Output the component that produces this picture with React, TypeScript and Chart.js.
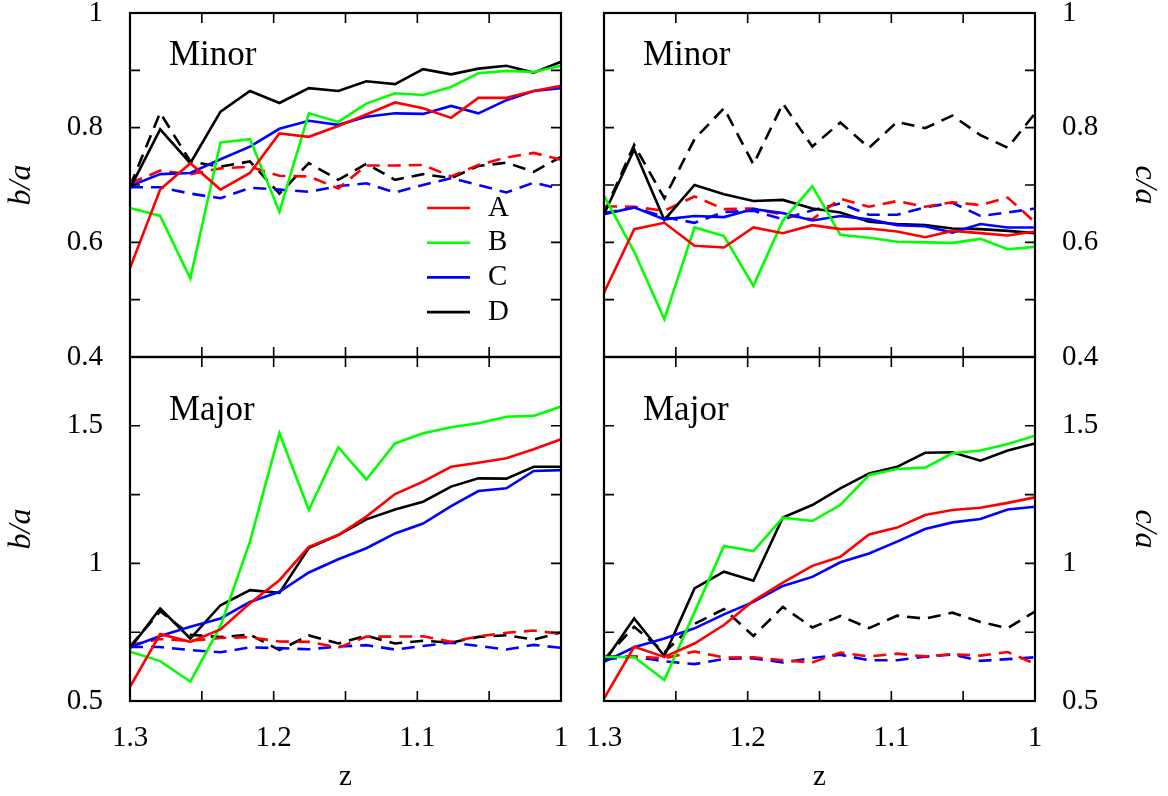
import { useEffect, useRef } from "react";
import { Chart, registerables } from "chart.js";

Chart.register(...registerables);

// Redshift of each snapshot (x values shared by every series)
const Z = [1.3, 1.279, 1.258, 1.237, 1.2165, 1.196, 1.1755, 1.155, 1.1355, 1.1155, 1.096, 1.0765, 1.0575, 1.038, 1.019, 1.0];

// Minor mergers, b/a (solid)
const MINOR_BA_A = [0.555, 0.692, 0.738, 0.692, 0.721, 0.79, 0.784, 0.803, 0.823, 0.844, 0.834, 0.817, 0.852, 0.852, 0.864, 0.873];
const MINOR_BA_B = [0.66, 0.646, 0.537, 0.774, 0.78, 0.653, 0.825, 0.81, 0.842, 0.86, 0.857, 0.871, 0.895, 0.899, 0.897, 0.908];
const MINOR_BA_C = [0.698, 0.719, 0.721, 0.745, 0.767, 0.798, 0.812, 0.805, 0.819, 0.825, 0.824, 0.838, 0.825, 0.848, 0.864, 0.869];
const MINOR_BA_D = [0.694, 0.797, 0.738, 0.828, 0.864, 0.843, 0.869, 0.864, 0.881, 0.876, 0.902, 0.893, 0.903, 0.908, 0.896, 0.915];

// Minor mergers, c/a (solid)
const MINOR_CA_A = [0.512, 0.623, 0.634, 0.594, 0.591, 0.626, 0.616, 0.63, 0.623, 0.624, 0.619, 0.609, 0.62, 0.616, 0.612, 0.619];
const MINOR_CA_B = [0.681, 0.584, 0.466, 0.626, 0.611, 0.524, 0.638, 0.698, 0.613, 0.608, 0.601, 0.6, 0.599, 0.606, 0.588, 0.592];
const MINOR_CA_C = [0.649, 0.661, 0.64, 0.646, 0.644, 0.658, 0.651, 0.638, 0.646, 0.64, 0.63, 0.628, 0.617, 0.632, 0.626, 0.626];
const MINOR_CA_D = [0.649, 0.762, 0.639, 0.7, 0.684, 0.672, 0.674, 0.659, 0.652, 0.636, 0.632, 0.63, 0.624, 0.623, 0.62, 0.616];

// Major mergers, b/a (solid)
const MAJOR_BA_A = [0.551, 0.743, 0.715, 0.76, 0.855, 0.939, 1.06, 1.103, 1.17, 1.252, 1.297, 1.351, 1.366, 1.382, 1.415, 1.451];
const MAJOR_BA_B = [0.679, 0.645, 0.57, 0.773, 1.079, 1.473, 1.194, 1.422, 1.305, 1.436, 1.473, 1.495, 1.509, 1.533, 1.536, 1.57];
const MAJOR_BA_C = [0.695, 0.736, 0.77, 0.8, 0.86, 0.897, 0.967, 1.015, 1.055, 1.109, 1.145, 1.208, 1.263, 1.273, 1.336, 1.339];
const MAJOR_BA_D = [0.691, 0.836, 0.727, 0.848, 0.903, 0.893, 1.057, 1.103, 1.16, 1.196, 1.224, 1.279, 1.309, 1.308, 1.351, 1.351];

// Major mergers, c/a (solid)
const MAJOR_CA_A = [0.509, 0.697, 0.66, 0.709, 0.776, 0.864, 0.93, 0.991, 1.024, 1.105, 1.13, 1.176, 1.194, 1.202, 1.22, 1.24];
const MAJOR_CA_B = [0.66, 0.66, 0.576, 0.823, 1.063, 1.045, 1.166, 1.154, 1.212, 1.321, 1.343, 1.348, 1.4, 1.41, 1.434, 1.464];
const MAJOR_CA_C = [0.642, 0.695, 0.727, 0.764, 0.815, 0.86, 0.918, 0.951, 1.004, 1.036, 1.079, 1.125, 1.149, 1.161, 1.196, 1.206];
const MAJOR_CA_D = [0.642, 0.8, 0.663, 0.909, 0.97, 0.937, 1.167, 1.212, 1.273, 1.327, 1.351, 1.402, 1.404, 1.373, 1.41, 1.436];

// Reference runs (dashed), same in the minor and major rows
const REF_BA_A = [0.703, 0.725, 0.719, 0.729, 0.732, 0.716, 0.715, 0.694, 0.734, 0.734, 0.735, 0.715, 0.735, 0.748, 0.756, 0.744];
const REF_BA_C = [0.696, 0.696, 0.685, 0.677, 0.695, 0.692, 0.688, 0.698, 0.703, 0.687, 0.7, 0.712, 0.7, 0.687, 0.704, 0.693];
const REF_BA_D = [0.698, 0.826, 0.741, 0.732, 0.741, 0.685, 0.738, 0.709, 0.737, 0.709, 0.719, 0.712, 0.733, 0.739, 0.723, 0.749];
const REF_CA_A = [0.663, 0.662, 0.655, 0.68, 0.658, 0.659, 0.648, 0.64, 0.676, 0.662, 0.672, 0.662, 0.67, 0.665, 0.678, 0.635];
const REF_CA_C = [0.651, 0.661, 0.644, 0.634, 0.653, 0.655, 0.64, 0.656, 0.668, 0.648, 0.648, 0.661, 0.669, 0.646, 0.652, 0.659];
const REF_CA_D = [0.651, 0.77, 0.677, 0.78, 0.834, 0.736, 0.842, 0.767, 0.809, 0.765, 0.81, 0.799, 0.821, 0.787, 0.765, 0.825];

// Ticks
const X_TICKS = [1.0, 1.05, 1.1, 1.15, 1.2, 1.25, 1.3];
const X_LABELED = [1.0, 1.1, 1.2, 1.3];
const Y_TICKS_TOP = [0.4, 0.5, 0.6, 0.7, 0.8, 0.9, 1.0];
const Y_LABELED_TOP = [0.4, 0.6, 0.8, 1.0];
const Y_TICKS_BOTTOM = [0.5, 0.75, 1.0, 1.25, 1.5, 1.75];
const Y_LABELED_BOTTOM = [0.5, 1.0, 1.5];

const NAMES = ["A", "B", "C", "D"];
const COLORS = ["#ff0000", "#00ff00", "#0000ff", "#000000"];

const W = 1168;
const H = 796;
const M = 100; // canvas overscan on every side
const FONT = "'Liberation Serif', 'Times New Roman', serif";
const LINE_W = 2.6;
const DASH = [13, 8];

type Series = { label: string; color: string; values: number[]; dashed: boolean };
type Panel = {
  rect: { l: number; t: number; r: number; b: number };
  side: "left" | "right";
  yMin: number;
  yMax: number;
  yTicks: number[];
  yLabeled: number[];
  yTitle: string;
  showX: boolean;
  title: string;
  titleDy: number;
  legend: boolean;
  series: Series[];
};

const solid = (vals: number[][]): Series[] =>
  vals.map((v, i) => ({ label: NAMES[i], color: COLORS[i], values: v, dashed: false }));

const dashed = (a: number[], c: number[], d: number[]): Series[] => [
  { label: "A ref", color: COLORS[0], values: a, dashed: true },
  { label: "C ref", color: COLORS[2], values: c, dashed: true },
  { label: "D ref", color: COLORS[3], values: d, dashed: true },
];

const PANELS: Panel[] = [
  {
    rect: { l: 130, t: 13, r: 561, b: 357 },
    side: "left",
    yMin: 0.4, yMax: 1.0, yTicks: Y_TICKS_TOP, yLabeled: Y_LABELED_TOP,
    yTitle: "b/a", showX: false, title: "Minor", titleDy: 52, legend: true,
    series: [...solid([MINOR_BA_A, MINOR_BA_B, MINOR_BA_C, MINOR_BA_D]), ...dashed(REF_BA_A, REF_BA_C, REF_BA_D)],
  },
  {
    rect: { l: 604, t: 13, r: 1035, b: 357 },
    side: "right",
    yMin: 0.4, yMax: 1.0, yTicks: Y_TICKS_TOP, yLabeled: Y_LABELED_TOP,
    yTitle: "c/a", showX: false, title: "Minor", titleDy: 52, legend: false,
    series: [...solid([MINOR_CA_A, MINOR_CA_B, MINOR_CA_C, MINOR_CA_D]), ...dashed(REF_CA_A, REF_CA_C, REF_CA_D)],
  },
  {
    rect: { l: 130, t: 357, r: 561, b: 701 },
    side: "left",
    yMin: 0.5, yMax: 1.75, yTicks: Y_TICKS_BOTTOM, yLabeled: Y_LABELED_BOTTOM,
    yTitle: "b/a", showX: true, title: "Major", titleDy: 63, legend: false,
    series: [...solid([MAJOR_BA_A, MAJOR_BA_B, MAJOR_BA_C, MAJOR_BA_D]), ...dashed(REF_BA_A, REF_BA_C, REF_BA_D)],
  },
  {
    rect: { l: 604, t: 357, r: 1035, b: 701 },
    side: "right",
    yMin: 0.5, yMax: 1.75, yTicks: Y_TICKS_BOTTOM, yLabeled: Y_LABELED_BOTTOM,
    yTitle: "c/a", showX: true, title: "Major", titleDy: 63, legend: false,
    series: [...solid([MAJOR_CA_A, MAJOR_CA_B, MAJOR_CA_C, MAJOR_CA_D]), ...dashed(REF_CA_A, REF_CA_C, REF_CA_D)],
  },
];

const inList = (v: number, list: number[]) => list.some((u) => Math.abs(u - v) < 1e-9);

function makeDecor(p: Panel) {
  return {
    id: "panelDecor",
    afterDatasetsDraw(chart: any) {
      const { ctx, chartArea: a, scales } = chart;
      const xs = scales.x;
      const ys = scales.y;
      const tl = 10;
      ctx.save();
      ctx.strokeStyle = "#000";
      ctx.lineWidth = 1.6;
      ctx.beginPath();
      X_TICKS.forEach((v) => {
        const px = xs.getPixelForValue(v);
        ctx.moveTo(px, a.bottom);
        ctx.lineTo(px, a.bottom - tl);
        ctx.moveTo(px, a.top);
        ctx.lineTo(px, a.top + tl);
      });
      p.yTicks.forEach((v) => {
        const py = ys.getPixelForValue(v);
        ctx.moveTo(a.left, py);
        ctx.lineTo(a.left + tl, py);
        ctx.moveTo(a.right, py);
        ctx.lineTo(a.right - tl, py);
      });
      ctx.stroke();
      ctx.lineWidth = 2.2;
      ctx.strokeRect(a.left, a.top, a.right - a.left, a.bottom - a.top);

      // Panel title
      ctx.fillStyle = "#000";
      ctx.font = `35px ${FONT}`;
      ctx.textBaseline = "alphabetic";
      ctx.textAlign = "left";
      ctx.fillText(p.title, a.left + 39, a.top + p.titleDy);

      // Key for the solid curves
      if (p.legend) {
        ctx.font = `29px ${FONT}`;
        ctx.textBaseline = "middle";
        chart.data.datasets.forEach((ds: any, i: number) => {
          if (ds.borderDash && ds.borderDash.length) return;
          const y = a.top + 195 + i * 34.7;
          ctx.strokeStyle = ds.borderColor;
          ctx.lineWidth = LINE_W;
          ctx.beginPath();
          ctx.moveTo(a.left + 297, y);
          ctx.lineTo(a.left + 340, y);
          ctx.stroke();
          ctx.fillStyle = "#000";
          ctx.fillText(ds.label, a.left + 358, y);
        });
      }
      ctx.restore();
    },
  };
}

function buildConfig(p: Panel): any {
  const padLeft = p.side === "left" ? M : M + p.rect.l;
  const padRight = p.side === "left" ? M + (W - p.rect.r) : M;
  const padTop = M + p.rect.t;
  const padBottom = p.showX ? M : M + (H - p.rect.b);
  const yAxisWidth = p.side === "left" ? p.rect.l : W - p.rect.r;
  const xAxisHeight = p.showX ? H - p.rect.b : 0;

  return {
    type: "line",
    data: {
      datasets: p.series.map((s) => ({
        label: s.label,
        data: Z.map((z, i) => ({ x: z, y: s.values[i] })),
        borderColor: s.color,
        backgroundColor: s.color,
        borderWidth: LINE_W,
        borderDash: s.dashed ? DASH : [],
        pointRadius: 0,
        tension: 0,
        fill: false,
      })),
    },
    options: {
      responsive: false,
      animation: false,
      devicePixelRatio: 1,
      events: [],
      layout: { padding: { left: padLeft, right: padRight, top: padTop, bottom: padBottom } },
      plugins: { legend: { display: false }, tooltip: { enabled: false } },
      scales: {
        x: {
          type: "linear",
          min: 1.0,
          max: 1.3,
          reverse: true,
          display: p.showX,
          afterBuildTicks: (s: any) => {
            s.ticks = X_TICKS.map((v) => ({ value: v }));
          },
          afterFit: (s: any) => {
            s.height = xAxisHeight;
          },
          grid: { display: false, drawTicks: false, tickLength: 0 },
          border: { display: false },
          ticks: {
            autoSkip: false,
            maxRotation: 0,
            minRotation: 0,
            padding: 20,
            color: "#000",
            font: { family: FONT, size: 29 },
            callback: (v: number) => (inList(v, X_LABELED) ? String(v) : ""),
          },
          title: {
            display: true,
            text: "z",
            color: "#000",
            font: { family: FONT, size: 29 },
            padding: { top: 0, bottom: 1.6 },
          },
        },
        y: {
          type: "linear",
          position: p.side,
          min: p.yMin,
          max: p.yMax,
          afterBuildTicks: (s: any) => {
            s.ticks = p.yTicks.map((v) => ({ value: v }));
          },
          afterFit: (s: any) => {
            s.width = yAxisWidth;
          },
          grid: { display: false, drawTicks: false, tickLength: 0 },
          border: { display: false },
          ticks: {
            autoSkip: false,
            padding: 27,
            color: "#000",
            font: { family: FONT, size: 29 },
            callback: (v: number) => (inList(v, p.yLabeled) ? String(v) : ""),
          },
          title: {
            display: true,
            text: p.yTitle,
            color: "#000",
            font: { family: FONT, size: 32, style: "italic" },
            padding: { top: p.side === "left" ? 2.8 : 4.8, bottom: 0 },
          },
        },
      },
    },
    plugins: [makeDecor(p)],
  };
}

export default function App() {
  const canvases = useRef<(HTMLCanvasElement | null)[]>([]);

  useEffect(() => {
    const charts = PANELS.map((p, i) => new Chart(canvases.current[i] as HTMLCanvasElement, buildConfig(p)));
    return () => {
      charts.forEach((c) => c.destroy());
    };
  }, []);

  return (
    <div
      style={{
        position: "absolute",
        left: 0,
        top: 0,
        width: W,
        height: H,
        overflow: "hidden",
        background: "#fff",
      }}
    >
      {PANELS.map((_, i) => (
        <canvas
          key={i}
          ref={(el) => {
            canvases.current[i] = el;
          }}
          width={W + 2 * M}
          height={H + 2 * M}
          style={{ position: "absolute", left: -M, top: -M }}
        />
      ))}
    </div>
  );
}
